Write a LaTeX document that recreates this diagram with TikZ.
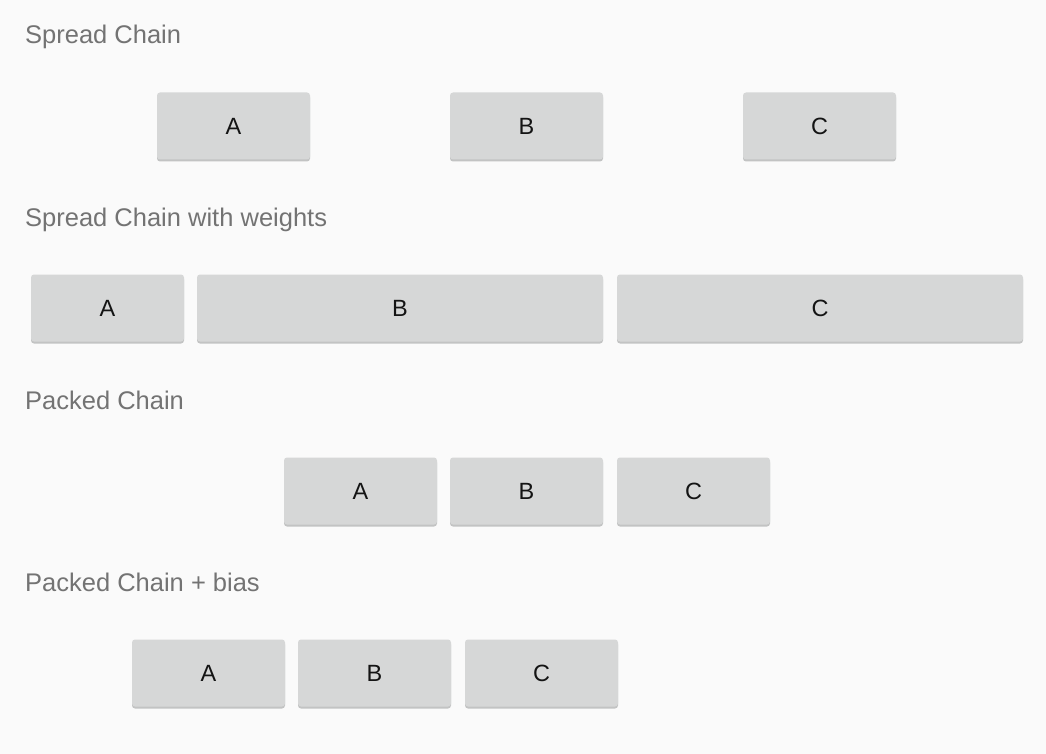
\documentclass[tikz,border=0pt]{standalone}
\usepackage{fontspec}
\setmainfont{Liberation Sans}
\usetikzlibrary{shadows}

\definecolor{pagebg}{HTML}{FAFAFA}
\definecolor{btnfill}{HTML}{D6D7D7}
\definecolor{btnshadow}{HTML}{C2C3C3}
\definecolor{titlegray}{HTML}{737373}
\definecolor{btntext}{HTML}{141414}

\tikzset{
  chaintitle/.style={anchor=base west, text=titlegray, inner sep=0pt,
    font=\fontsize{25.5}{30}\selectfont},
  btn/.style={fill=btnfill, rounded corners=3pt, minimum height=67pt,
    text=btntext, font=\fontsize{23.5}{28}\selectfont,
    drop shadow={shadow xshift=0pt, shadow yshift=-2pt, fill=btnshadow, opacity=1}},
  narrow/.style={btn, minimum width=153pt},
  wide/.style={btn, minimum width=406pt}
}

\begin{document}
\begin{tikzpicture}[x=1pt,y=-1pt]

\fill[pagebg] (0,0) rectangle (1046,754);
\useasboundingbox (0,0) rectangle (1046,754);

%spread chain
\node [chaintitle] (spread) at (25,44) {Spread Chain};
\node [narrow] (sA) at (233.5,126) {A};
\node [narrow] (sB) at (526.5,126) {B};
\node [narrow] (sC) at (819.5,126) {C};

%spread chain with weights
\node [chaintitle] (weights) at (25,226) {Spread Chain with weights};
\node [narrow] (wA) at (107.5,308) {A};
\node [wide] (wB) at (400,308) {B};
\node [wide] (wC) at (820,308) {C};

%packed chain
\node [chaintitle] (packed) at (25,409) {Packed Chain};
\node [narrow] (pA) at (360.5,491) {A};
\node [narrow] (pB) at (526.5,491) {B};
\node [narrow] (pC) at (693.5,491) {C};

%packed chain + bias
\node [chaintitle] (bias) at (25,591) {Packed Chain + bias};
\node [narrow] (bA) at (208.5,673) {A};
\node [narrow] (bB) at (374.5,673) {B};
\node [narrow] (bC) at (541.5,673) {C};

\end{tikzpicture}
\end{document}
